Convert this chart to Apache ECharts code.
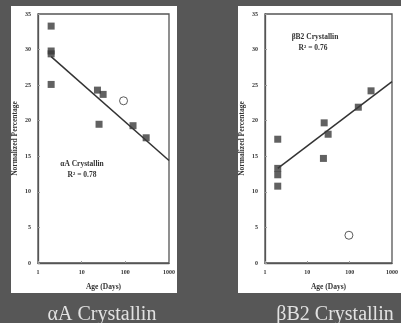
<!DOCTYPE html>
<html><head><meta charset="utf-8">
<script src="https://cdn.jsdelivr.net/npm/echarts@6/dist/echarts.min.js"></script>
<style>html,body{margin:0;padding:0;background:#575757;}#c{width:401px;height:323px;}</style>
</head><body><div id="c"></div>
<script>
// Alpha A crystallin
const aDays = [2, 2, 2, 2, 23, 31, 25, 150, 300];
const aVals = [33.3, 29.8, 29.4, 25.1, 24.3, 23.7, 19.5, 19.3, 17.6];
const aOpenDays = [91];
const aOpenVals = [22.8];
const aFitDays = [2, 1000];
const aFitVals = [29.0, 14.4];
// Beta B2 crystallin
const bDays = [2, 2, 2, 2, 25, 31, 24, 160, 320];
const bVals = [17.4, 13.3, 12.4, 10.8, 19.7, 18.1, 14.7, 21.9, 24.2];
const bOpenDays = [96];
const bOpenVals = [3.9];
const bFitDays = [2, 1000];
const bFitVals = [13.3, 25.5];
const xTicks = [1, 10, 100, 1000];
const panelTitles = ['αA Crystallin', 'βB2 Crystallin'];
const insetTitles = ['αA Crystallin', 'βB2 Crystallin'];
const r2 = ['0.78', '0.76'];

const zip = (xs, ys) => xs.map((x, i) => [x, ys[i]]);
const serif = 'Liberation Serif';
const ink = '#333';

function xAx(gi) {
  return {
    type: 'log', logBase: 10, min: 1, max: 1000, gridIndex: gi,
    name: 'Age (Days)', nameLocation: 'middle', nameGap: 20,
    nameTextStyle: {fontFamily: serif, fontWeight: 'bold', fontSize: 7.5, color: ink},
    axisLine: {lineStyle: {color: '#555', width: 1.3}},
    axisTick: {inside: true, length: 2, lineStyle: {color: '#999'}},
    axisLabel: {fontFamily: serif, fontWeight: 'bold', fontSize: 6, color: ink, margin: 6,
      formatter: v => xTicks.includes(Math.round(v)) ? String(Math.round(v)) : ''},
    splitLine: {show: false}, minorTick: {show: false}
  };
}
function yAx(gi) {
  return {
    type: 'value', min: 0, max: 35, interval: 5, gridIndex: gi,
    name: 'Normalized Percentage', nameLocation: 'middle', nameGap: 19,
    nameTextStyle: {fontFamily: serif, fontWeight: 'bold', fontSize: 7.5, color: ink},
    axisLine: {show: true, lineStyle: {color: '#555', width: 1.3}},
    axisTick: {show: true, inside: true, length: 2, lineStyle: {color: '#999'}},
    axisLabel: {fontFamily: serif, fontWeight: 'bold', fontSize: 6, color: ink, margin: 7},
    splitLine: {show: false}
  };
}
const sq = (xi, yi, data) => ({type: 'scatter', xAxisIndex: xi, yAxisIndex: yi, data, symbol: 'rect', symbolSize: 7,
  itemStyle: {color: '#3a3a3a'}, z: 3});
const open = (xi, yi, data) => ({type: 'scatter', xAxisIndex: xi, yAxisIndex: yi, data, symbol: 'circle', symbolSize: 8,
  itemStyle: {color: '#fff', borderColor: '#333', borderWidth: 1}, z: 3});
const fit = (xi, yi, data) => ({type: 'line', xAxisIndex: xi, yAxisIndex: yi, data, symbol: 'none',
  lineStyle: {color: '#333', width: 1.5}, z: 2});
const label = (x, y, text) => ({type: 'text', x, y, style: {text, font: 'bold 7.5px "Liberation Serif"', fill: ink, align: 'center', verticalAlign: 'middle', textAlign: 'center', textVerticalAlign: 'middle'}});

const chart = echarts.init(document.getElementById('c'), null, {renderer: 'canvas'});
chart.setOption({
  backgroundColor: '#575757',
  animation: false,
  graphic: [
    {type: 'rect', shape: {x: 11, y: 6, width: 166, height: 287}, style: {fill: '#fff'}, z: -10},
    {type: 'rect', shape: {x: 238, y: 6, width: 163, height: 287}, style: {fill: '#fff'}, z: -10},
    label(82, 164, insetTitles[0]),
    label(82, 175, 'R² = ' + r2[0]),
    label(315, 37, insetTitles[1]),
    label(313, 48, 'R² = ' + r2[1])
  ],
  title: [
    {text: panelTitles[0], left: 97, top: 300, textAlign: 'center',
      textStyle: {fontFamily: serif, fontWeight: 'normal', fontSize: 20, color: '#e2e2e2'}},
    {text: panelTitles[1], left: 330, top: 300, textAlign: 'center',
      textStyle: {fontFamily: serif, fontWeight: 'normal', fontSize: 20, color: '#e2e2e2'}}
  ],
  grid: [
    {left: 38, top: 14, width: 131, height: 249, show: true, borderColor: '#555', borderWidth: 1.3, backgroundColor: 'transparent'},
    {left: 265, top: 14, width: 132, height: 249, show: true, borderColor: '#555', borderWidth: 1.3, backgroundColor: 'transparent'}
  ],
  xAxis: [xAx(0), xAx(1)],
  yAxis: [yAx(0), yAx(1)],
  series: [
    fit(0, 0, zip(aFitDays, aFitVals)),
    sq(0, 0, zip(aDays, aVals)),
    open(0, 0, zip(aOpenDays, aOpenVals)),
    fit(1, 1, zip(bFitDays, bFitVals)),
    sq(1, 1, zip(bDays, bVals)),
    open(1, 1, zip(bOpenDays, bOpenVals))
  ]
});
</script></body></html>
